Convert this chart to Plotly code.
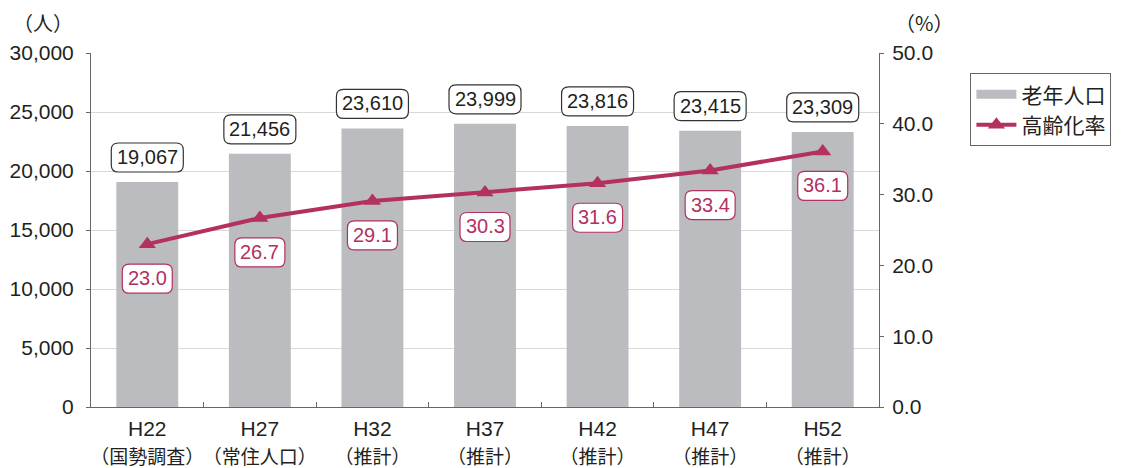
import plotly.graph_objects as go

# data
years = ["H22", "H27", "H32", "H37", "H42", "H47", "H52"]
notes = ["（国勢調査）", "（常住人口）", "（推計）", "（推計）", "（推計）", "（推計）", "（推計）"]
elderly = [19067, 21456, 23610, 23999, 23816, 23415, 23309]
aging_rate = [23.0, 26.7, 29.1, 30.3, 31.6, 33.4, 36.1]
left_ticks = [0, 5000, 10000, 15000, 20000, 25000, 30000]
right_ticks = [0, 10, 20, 30, 40, 50]

JP = "Noto Sans CJK JP"
cats = [f"{y}<br><span style='font-family:{JP};font-size:19px'>{n}</span>"
        for y, n in zip(years, notes)]

BAR = "#bbbcc0"
LINE = "#b3305f"
TXT = "#231f20"
FONT = "Liberation Sans, Arial, Noto Sans CJK JP, sans-serif"


def rrect(x0, y0, x1, y1, r):
    return (f"M{x0+r},{y0} L{x1-r},{y0} Q{x1},{y0} {x1},{y0+r} "
            f"L{x1},{y1-r} Q{x1},{y1} {x1-r},{y1} L{x0+r},{y1} "
            f"Q{x0},{y1} {x0},{y1-r} L{x0},{y0+r} Q{x0},{y0} {x0+r},{y0} Z")


fig = go.Figure()
fig.add_trace(go.Bar(x=cats, y=elderly, name="老年人口", marker_color=BAR,
                     marker_line_width=0, showlegend=False))
# legend-only entry so the bar swatch is drawn as a wide flat bar
fig.add_trace(go.Scatter(x=[None], y=[None], name="老年人口", mode="lines",
                         line=dict(color=BAR, width=9)))
fig.add_trace(go.Scatter(x=cats, y=aging_rate, name="高齢化率", yaxis="y2",
                         mode="lines+markers",
                         line=dict(color=LINE, width=4),
                         marker=dict(symbol="triangle-up", size=15, color=LINE)))

shapes = []
annotations = []
for c, v in zip(cats, elderly):
    shapes.append(dict(type="path", xref="x", yref="y", xsizemode="pixel", ysizemode="pixel",
                       xanchor=c, yanchor=v, path=rrect(-36, 10, 36, 39, 7),
                       line=dict(color="#333333", width=1.2), fillcolor="white", layer="above"))
    annotations.append(dict(x=c, y=v, xref="x", yref="y", text=f"{v:,}", showarrow=False,
                            yanchor="middle", yshift=25, font=dict(size=20, color=TXT)))
for c, v in zip(cats, aging_rate):
    shapes.append(dict(type="path", xref="x", yref="y2", xsizemode="pixel", ysizemode="pixel",
                       xanchor=c, yanchor=v, path=rrect(-25, -49, 25, -20, 7),
                       line=dict(color=LINE, width=1.2), fillcolor="white", layer="above"))
    annotations.append(dict(x=c, y=v, xref="x", yref="y2", text=f"{v:.1f}", showarrow=False,
                            yanchor="middle", yshift=-34, font=dict(size=20, color=LINE)))

annotations.append(dict(x=-0.101, y=1.133, xref="paper", yref="paper", text="（人）",
                        showarrow=False, font=dict(size=20, color=TXT, family=JP)))
annotations.append(dict(x=1.097, y=1.133, xref="paper", yref="paper", text="（%）",
                        showarrow=False, font=dict(size=20, color=TXT, family=JP)))

# page body has an 8px margin, so the figure is 8px smaller and margins shifted
fig.update_layout(
    width=1115, height=460,
    margin=dict(l=83, r=239, t=45, b=61),
    paper_bgcolor="white", plot_bgcolor="white",
    font=dict(family=FONT, size=20, color=TXT),
    bargap=0.45,
    shapes=shapes,
    annotations=annotations,
    xaxis=dict(type="category", showline=True, linecolor="#666666", linewidth=1,
               ticks="inside", tickson="boundaries", ticklen=5, tickcolor="#666666",
               tickfont=dict(size=21), tickangle=0, automargin=False,
               ticklabelstandoff=3),
    yaxis=dict(range=[0, 30000], tickvals=left_ticks, tickformat=",",
               showline=True, linecolor="#666666", ticks="outside", ticklen=4,
               tickcolor="#666666", gridcolor="#d9d9d9", gridwidth=1.2,
               tickfont=dict(size=21), zeroline=False, automargin=False,
               ticklabelstandoff=8),
    yaxis2=dict(range=[0, 50], tickvals=right_ticks, tickformat=".1f", overlaying="y",
                side="right", showline=True, linecolor="#666666", ticks="outside",
                ticklen=4, tickcolor="#666666", showgrid=False, zeroline=False,
                tickfont=dict(size=21), automargin=False, ticklabelstandoff=4),
    legend=dict(x=1.116, y=0.943, xanchor="left", yanchor="top",
                bordercolor="#666666", borderwidth=1, bgcolor="white",
                font=dict(size=21), tracegroupgap=2, itemwidth=40),
)

fig.write_html("out.html")
